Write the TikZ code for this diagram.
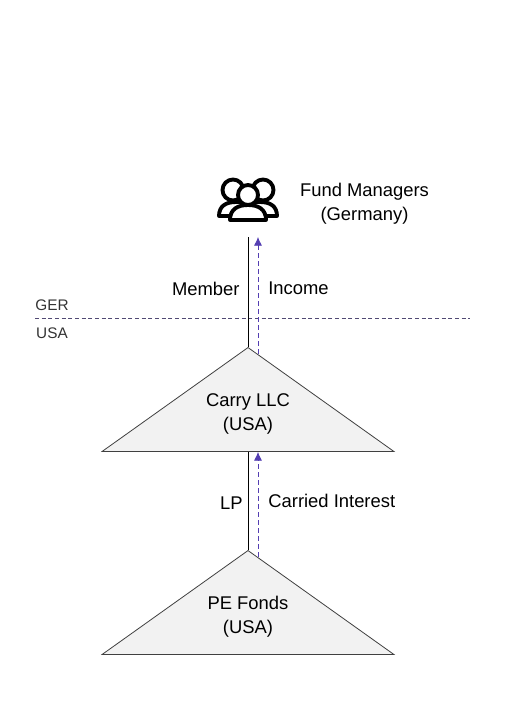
\documentclass[tikz,border=0pt]{standalone}
\usepackage{fontspec}
\setmainfont{Liberation Sans}
\usetikzlibrary{positioning, arrows.meta, shapes.geometric, calc}

\begin{document}
\begin{tikzpicture}[x=0.75pt, y=-0.75pt,
    every node/.style={font=\fontsize{13.8}{18}\selectfont},
    entity/.style={isosceles triangle, isosceles triangle stretches, shape border rotate=90, draw=black!75, fill=black!5,
      line width=0.6pt, inner sep=0pt, minimum width=219pt, minimum height=78pt, anchor=apex, align=center},
    title/.style={align=center},
    border/.style={font=\fontsize{11.5}{14}\selectfont, text=black!80},
    holding/.style={line width=0.6pt},
    flow/.style={-{Latex[length=6.5pt, width=6pt]}, dash pattern=on 3.5pt off 2.5pt, draw=flowblue, line width=0.5pt},
    person/.style={line width=2.9pt, draw=black, fill=white, line join=round}]
  \definecolor{flowblue}{RGB}{84,62,178}
  \useasboundingbox (0,0) rectangle (530,720);

  % the two entities
  \node[entity] (carry) at (248,346.5) {};
  \node[entity] (fonds) at (248,549.5) {};
  \node[title] (carrytext) at (248,414) {Carry LLC\\(USA)};
  \node[title] (fondstext) at (248,617) {PE Fonds\\(USA)};

  % managers icon
  \coordinate (managers) at (248,237);
  \draw[person] (233,190) circle (10.5);
  \draw[person] (263,190) circle (10.5);
  \draw[person] (219,216) .. controls (219,206) and (226,202) .. (236,202) -- (260,202) .. controls (270,202) and (277,206) .. (277,216) -- cycle;
  \draw[person] (248,195) circle (10);
  \draw[person] (230,220) .. controls (230,209) and (238,205) .. (248,205) .. controls (258,205) and (266,209) .. (266,220) -- cycle;
  \node[title] (fundtext) at (364.5,204) {Fund Managers\\(Germany)};

  % border
  \coordinate (borderleft) at (35,318);
  \coordinate (borderright) at (470,318);
  \draw[dash pattern=on 3pt off 2pt, draw=flowblue!45!black!80, line width=0.5pt] (borderleft) -- (borderright);
  \node[border] (ger) at (52,305.5) {GER};
  \node[border] (usa) at (52,333.5) {USA};

  % connectors
  \draw[holding] (managers) -- node[pos=0.47, left=2.7pt] (member) {Member} (carry.apex);
  \draw[holding] (carry.south) -- node[pos=0.53, left=0.4pt] (lp) {LP} (fonds.apex);
  \draw[flow] ($(carry.apex)+(10,7)$) -- node[pos=0.564, right=4.2pt, text=black] (income) {Income} ($(managers)+(10,0)$);
  \draw[flow] ($(fonds.apex)+(10,7)$) -- node[pos=0.528, right=4.2pt, text=black] (carried) {Carried Interest} ($(carry.south)+(10,0)$);
\end{tikzpicture}
\end{document}
